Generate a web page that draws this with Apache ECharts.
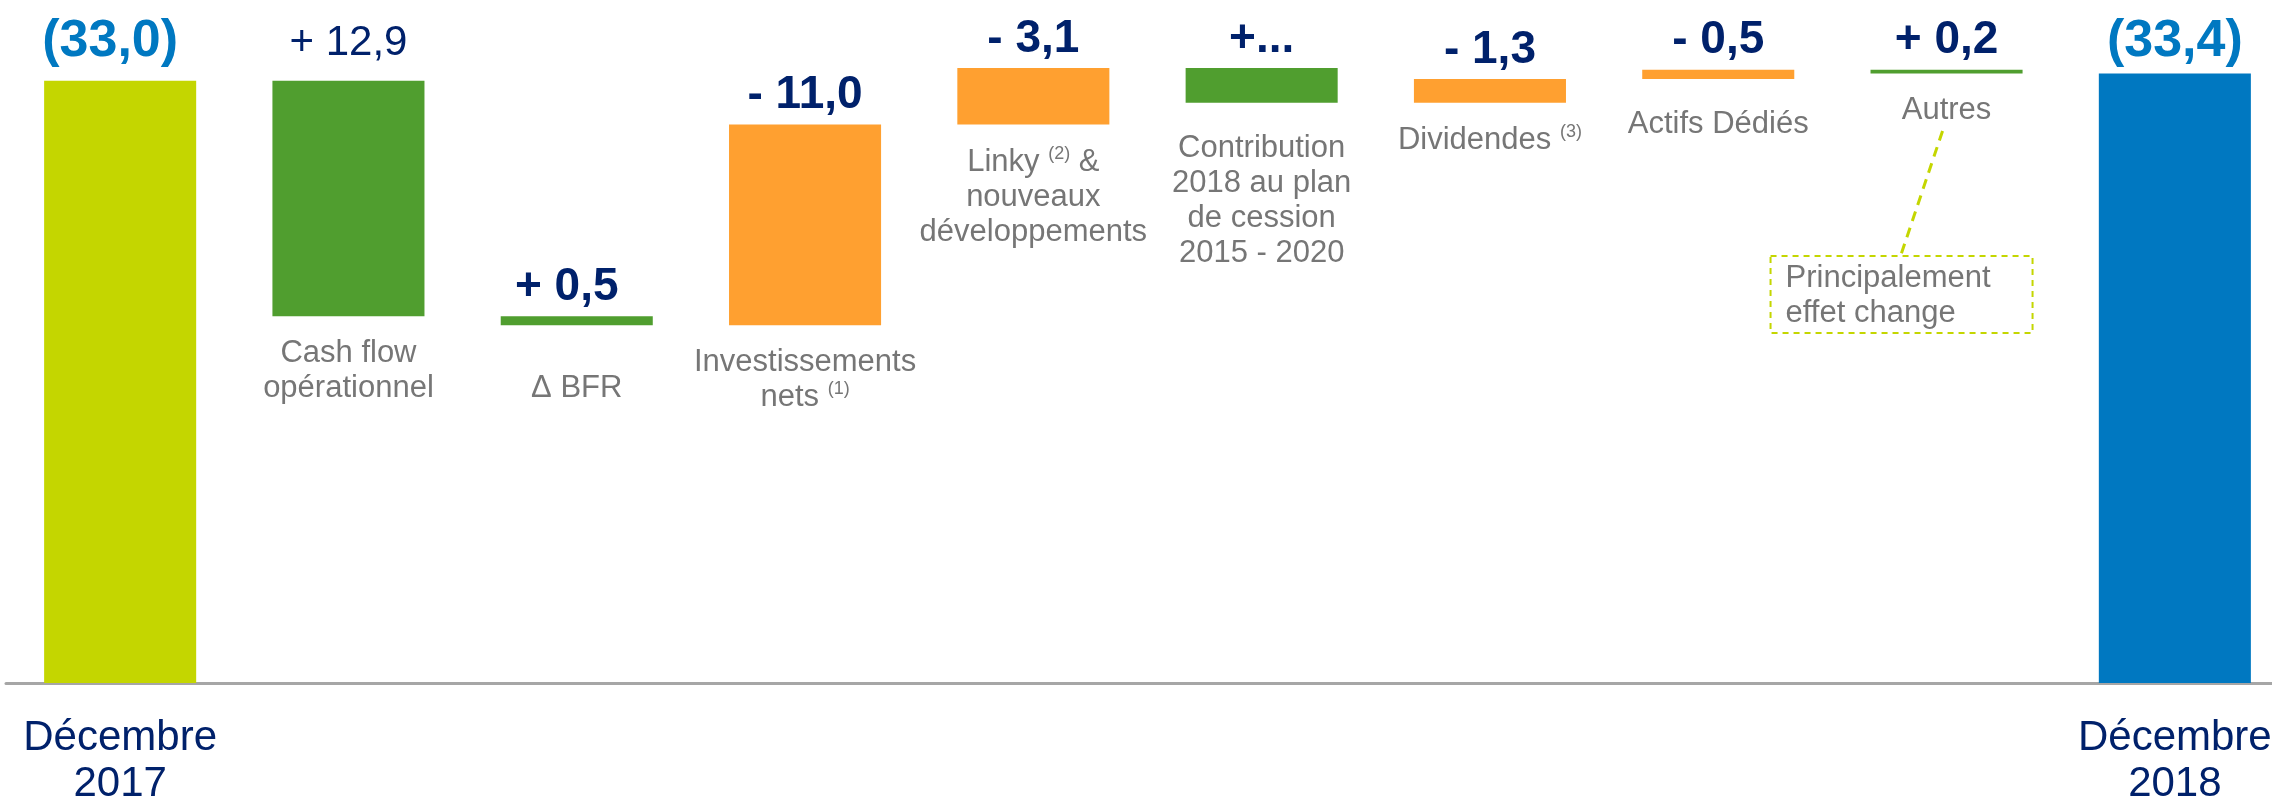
<!DOCTYPE html>
<html>
<head>
<meta charset="utf-8">
<script src="https://cdn.jsdelivr.net/npm/echarts@6/dist/echarts.min.js"></script>
<style>
	html, body { margin: 0; padding: 0; background: #fff; }
	#main { width: 2272px; height: 800px; }
</style>
</head>
<body>
<div id="main"></div>
<script>
var categories = ['Décembre 2017', 'Cash flow opérationnel', 'Δ BFR', 'Investissements nets', 'Linky & nouveaux développements', 'Contribution 2018 au plan de cession 2015 - 2020', 'Dividendes', 'Actifs Dédiés', 'Autres', 'Décembre 2018']
// text under each floating bar ({sup|} = footnote call)
var stepLabels = ['', 'Cash flow\nopérationnel', 'Δ BFR', 'Investissements\nnets {sup|(1)}', 'Linky {sup|(2)} &\nnouveaux\ndéveloppements', 'Contribution\n2018 au plan\nde cession\n2015 - 2020', 'Dividendes {sup|(3)}', 'Actifs Dédiés', 'Autres', '']
var periodLabels = ['Décembre\n2017', 'Décembre\n2018']

// net debt, Md€ : opening, changes (+ = more debt), closing
var openingDebt = 33.0
var debtChanges = [-12.9, -0.5, 11.0, 3.1, -1.9, 1.3, 0.5, -0.2]
var closingDebt = 33.4
var valueLabels = ['(33,0)', '+ 12,9', '+ 0,5', '- 11,0', '- 3,1', '+...', '- 1,3', '- 0,5', '+ 0,2', '(33,4)']

var colors = { open: '#C4D600', down: '#509E2F', up: '#FFA030', close: '#0078C1' }
var NAVY = '#00216B'
var GREY = '#767676'
var FONT = "'Liberation Sans', Arial, sans-serif"

// waterfall : transparent base + visible step
var base = [0]
var steps = [openingDebt]
var kinds = ['open']
var running = openingDebt
debtChanges.forEach(function (d) {
	var next = Math.round((running + d) * 10) / 10
	base.push(Math.min(running, next))
	steps.push(Math.abs(d))
	kinds.push(d < 0 ? 'down' : 'up')
	running = next
})
base.push(0)
steps.push(closingDebt)
kinds.push('close')

// the slide's text boxes are not all at the same place
var nameGap = { 2: 46, 5: 28, 7: 28 }
var valueShift = { 0: -10, 2: -10 }

var baseData = base.map(function (v, i) {
	return { value: v, label: { distance: nameGap[i] || 20 } }
})

var stepData = steps.map(function (v, i) {
	var label = { fontSize: 46, fontWeight: 'bold', color: NAVY, distance: 6 }
	if (kinds[i] === 'open') label = { fontSize: 52, fontWeight: 'bold', color: colors.close, distance: 13 }
	if (kinds[i] === 'close') label = { fontSize: 52, fontWeight: 'bold', color: colors.close, distance: 6 }
	if (i === 1) {
		// "+ 12,9" is not bold on the slide
		label = { fontSize: 42, fontWeight: 'normal', color: NAVY, distance: 16 }
	}
	label.offset = [valueShift[i] || 0, 0]
	return { value: v, itemStyle: { color: colors[kinds[i]] }, label: label }
})

var chart = echarts.init(document.getElementById('main'))
chart.setOption({
	animation: false,
	textStyle: { fontFamily: FONT },
	grid: { left: 6, top: 26, width: 2283, height: 657, containLabel: false, outerBoundsMode: 'none' },
	xAxis: {
		type: 'category',
		data: categories,
		axisLine: { lineStyle: { color: '#A6A6A6', width: 3 } },
		axisTick: { show: false },
		axisLabel: {
			interval: 0,
			margin: 32,
			color: NAVY,
			fontSize: 42,
			lineHeight: 46,
			fontFamily: FONT,
			formatter: function (v, i) {
				if (i === 0) return periodLabels[0]
				if (i === categories.length - 1) return periodLabels[1]
				return ''
			},
		},
	},
	yAxis: {
		type: 'value',
		min: 0,
		max: 36,
		show: false,
		splitLine: { show: false },
	},
	series: [
		{
			name: 'base',
			type: 'bar',
			stack: 'debt',
			barCategoryGap: '33.4%',
			itemStyle: { color: 'transparent' },
			silent: true,
			label: {
				show: true,
				position: 'insideTop',
				color: GREY,
				fontSize: 31,
				lineHeight: 35,
				fontFamily: FONT,
				formatter: function (p) {
					return stepLabels[p.dataIndex]
				},
				rich: {
					sup: { fontSize: 18, lineHeight: 22, verticalAlign: 'top', color: GREY, fontFamily: FONT },
				},
			},
			data: baseData,
		},
		{
			name: 'dette nette',
			type: 'bar',
			stack: 'debt',
			barCategoryGap: '33.4%',
			label: {
				show: true,
				position: 'top',
				fontFamily: FONT,
				formatter: function (p) {
					return valueLabels[p.dataIndex]
				},
			},
			data: stepData,
		},
	],
})

// callout under "Autres"
var anchor = chart.convertToPixel({ gridIndex: 0 }, [8, 0])
var cx = anchor[0]
chart.setOption({
	graphic: [
		{
			type: 'line',
			shape: { x1: cx - 4, y1: 131, x2: cx - 46, y2: 256 },
			style: { stroke: '#C4D600', lineWidth: 3, lineDash: [10, 7] },
		},
		{
			type: 'rect',
			shape: { x: cx - 176, y: 256, width: 262, height: 77 },
			style: { fill: 'none', stroke: '#C4D600', lineWidth: 2, lineDash: [6, 5] },
		},
		{
			type: 'text',
			x: cx - 161,
			y: 261,
			style: {
				text: 'Principalement\neffet change',
				fill: GREY,
				fontSize: 31,
				fontFamily: FONT,
				lineHeight: 35,
				verticalAlign: 'top',
			},
		},
	],
})
</script>
</body>
</html>
